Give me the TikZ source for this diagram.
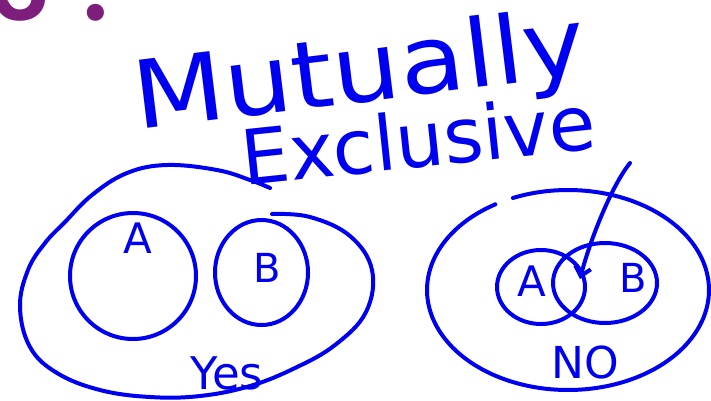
\documentclass[tikz,border=0pt]{standalone}
\usepackage{fontspec}
\setmainfont{DejaVu Sans}
\newfontfamily\numfont{Carlito}
\usetikzlibrary{arrows.meta}
\definecolor{handblue}{RGB}{0,0,240}
\definecolor{slidepurple}{RGB}{125,30,125}
\tikzset{
  ink/.style={draw=handblue, line width=4pt, line cap=round, line join=round},
  hand/.style={text=handblue, inner sep=0pt},
}
\newcommand{\fs}[1]{\fontsize{#1}{#1}\selectfont}
\begin{document}
\begin{tikzpicture}[x=1pt,y=-1pt]
\useasboundingbox (0,0) rectangle (711,400);
% slide number
\node[anchor=base west, inner sep=0pt, text=slidepurple] (num) at (-10,20) {\numfont\bfseries\fs{115}3\kern 0.28em.};
% title
\node[hand, rotate=7, xscale=1.13] (title1) at (360,76) {\fs{94}Mutually};
\node[hand, rotate=6] (title2) at (418,139) {\fs{76}Exclusive};
% left: yes
\draw[ink] plot[smooth, tension=0.65] coordinates {(272,214) (310,217) (350,236) (372,270) (366,312) (335,345) (295,368) (250,386) (200,396) (150,397) (100,390) (57,373) (30,347) (20,307) (28,270) (45,243) (65,222) (92,195) (127,173) (167,165) (217,170) (250,180) (270,188)};
\draw[ink] (133,276) circle[radius=63];
\draw[ink] (261.5,272.5) ellipse[x radius=46.5, y radius=52.5];
\node[hand] (lA) at (138,238) {\fs{42}A};
\node[hand] (lB) at (267,268) {\fs{40}B};
\node[hand] (yes) at (227,373) {\fs{45}Yes};
% right: no
\draw[ink] plot[smooth, domain=121:473, samples=80] ({568+141*cos(\x)},{290-100*sin(\x)});
\draw[ink] (541,287) ellipse[x radius=44, y radius=37];
\draw[ink] (605,283) ellipse[x radius=52, y radius=40];
\node[hand] (rA) at (532,281) {\fs{42}A};
\node[hand] (rB) at (633,278) {\fs{40}B};
\node[hand] (no) at (585,362) {\fs{44}NO};
\coordinate (arrS) at (630,163);
\coordinate (arrT) at (580,279);
\draw[ink, -{Straight Barb[length=9pt, width=16pt, line width=4pt]}] (arrS) .. controls (612,185) and (590,240) .. (arrT);
\end{tikzpicture}
\end{document}
